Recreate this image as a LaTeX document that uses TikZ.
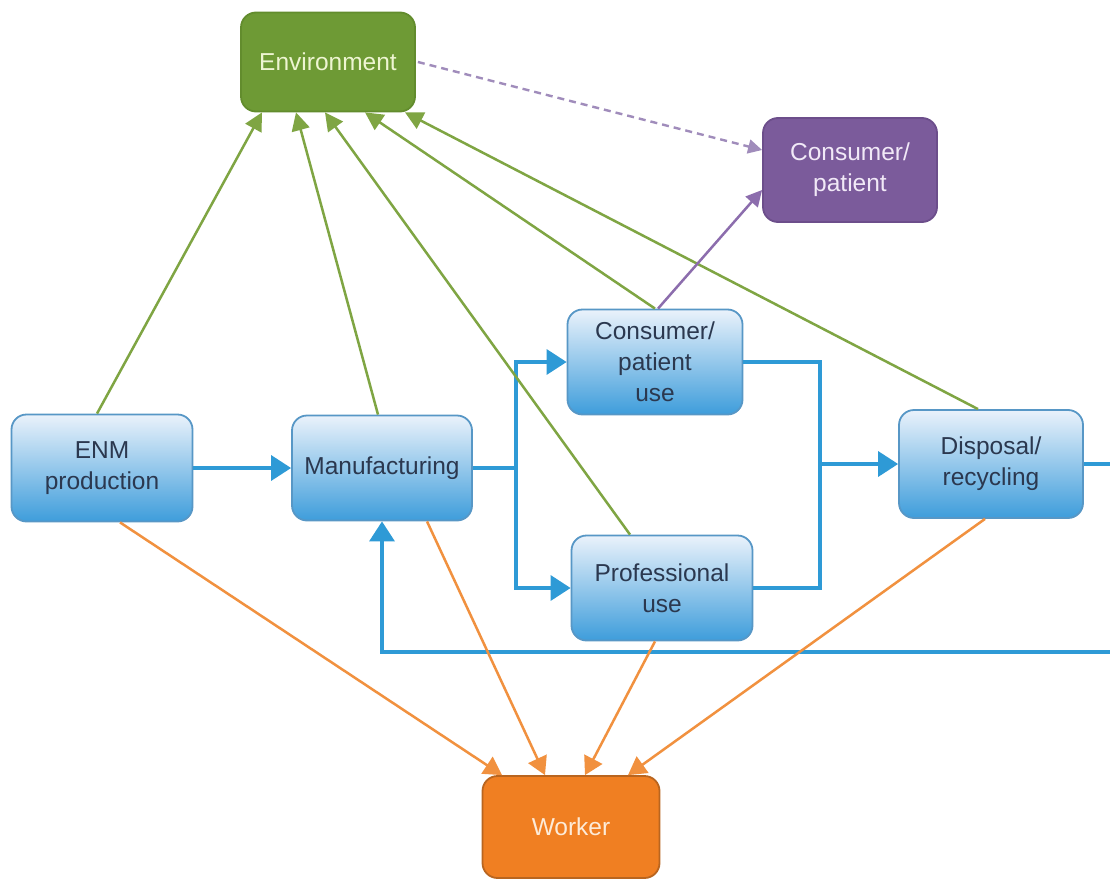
\documentclass[tikz,border=0pt]{standalone}
\usepackage{fontspec}
\setmainfont{Liberation Sans}
\usetikzlibrary{arrows.meta,calc}
\definecolor{bluetop}{HTML}{EAF2FB}
\definecolor{bluebot}{HTML}{3E9DDB}
\definecolor{blueedge}{HTML}{5797C6}
\definecolor{bluetext}{HTML}{2B384F}
\definecolor{blueline}{HTML}{2E9AD6}
\definecolor{envfill}{HTML}{6E9A35}
\definecolor{envedge}{HTML}{628C2D}
\definecolor{envtext}{HTML}{EEF5D2}
\definecolor{greenline}{HTML}{7FA543}
\definecolor{purfill}{HTML}{7B5B9B}
\definecolor{puredge}{HTML}{6C4E8B}
\definecolor{purtext}{HTML}{F1E9F7}
\definecolor{purline}{HTML}{8C6DAD}
\definecolor{purdash}{HTML}{A08CBB}
\definecolor{orfill}{HTML}{F07F22}
\definecolor{oredge}{HTML}{B9651F}
\definecolor{ortext}{HTML}{FDEBD8}
\definecolor{orline}{HTML}{F1913F}
\tikzset{
  x=1pt, y=-1pt,
  box/.style={rounded corners=15pt, line width=1.8pt, align=center,
    font=\fontsize{24.5}{31}\selectfont, inner sep=0pt},
  bluebox/.style={box, draw=blueedge, top color=bluetop, bottom color=bluebot, text=bluetext},
  envbox/.style={box, draw=envedge, fill=envfill, text=envtext},
  purbox/.style={box, draw=puredge, fill=purfill, text=purtext},
  orbox/.style={box, draw=oredge, fill=orfill, text=ortext},
  bflow/.style={draw=blueline, line width=3.4pt},
  bhead/.style={-{Triangle[length=20pt,width=25pt]}},
  gflow/.style={draw=greenline, line width=2.5pt, -{Triangle[length=18pt,width=18pt]}},
  oflow/.style={draw=orline, line width=2.5pt, -{Triangle[length=18pt,width=20pt]}},
  pflow/.style={draw=purline, line width=2.5pt, -{Triangle[length=16pt,width=16pt]}},
  pdash/.style={draw=purdash, line width=2.4pt, dash pattern=on 7pt off 5pt, -{Triangle[length=14pt,width=14pt]}}
}
\begin{document}
\begin{tikzpicture}
\useasboundingbox (0,0) rectangle (1110,880);
\fill[white] (0,0) rectangle (1110,880);

\node[envbox, minimum width=174pt, minimum height=99pt] (env) at (328,62) {Environment};
\node[purbox, minimum width=174pt, minimum height=104pt] (cp) at (850,170) {Consumer/\\patient};
\node[bluebox, minimum width=181pt, minimum height=107pt] (enm) at (102,468) {ENM\\production};
\node[bluebox, minimum width=180pt, minimum height=105pt] (man) at (382,468) {Manufacturing};
\node[bluebox, minimum width=175pt, minimum height=105pt] (cu) at (655,362) {Consumer/\\patient\\use};
\node[bluebox, minimum width=181pt, minimum height=105pt] (pu) at (662,588) {Professional\\use};
\node[bluebox, minimum width=184pt, minimum height=108pt] (dis) at (991,464) {Disposal/\\recycling};
\node[orbox, minimum width=177pt, minimum height=102pt] (wk) at (571,827) {Worker};

% blue process flow
\coordinate (b1) at (516,468);
\coordinate (b2) at (820,464);
\coordinate (loopr) at (1130,464);
\draw[bflow, bhead] (enm.east) -- (man.west);
\draw[bflow] (man.east) -- (b1);
\draw[bflow, bhead] (b1) |- (cu.west);
\draw[bflow, bhead] (b1) |- (pu.west);
\draw[bflow] (cu.east) -| (b2);
\draw[bflow] (pu.east) -| (b2);
\draw[bflow, bhead] (b2) -- (dis.west);
\draw[bflow, bhead] (dis.east) -- (loopr) -- ++(0,188) -| (man.south);

% green: to environment
\draw[gflow] ([xshift=-5pt]enm.north) -- ([xshift=-66pt]env.south);
\draw[gflow] ([xshift=-4pt]man.north) -- ([xshift=-32pt]env.south);
\draw[gflow] ([xshift=-32pt]pu.north) -- ([xshift=-3pt]env.south);
\draw[gflow] (cu.north) -- ([xshift=37pt]env.south);
\draw[gflow] ([xshift=-13pt]dis.north) -- ([xshift=77pt]env.south);

% purple
\draw[pflow] ([xshift=3pt]cu.north) -- ([yshift=-20pt]cp.west);
\draw[pdash] ([xshift=2pt]env.east) -- ([yshift=20pt]cp.west);

% orange: to worker
\draw[oflow] ([xshift=18pt]enm.south) -- ([xshift=-69pt]wk.north);
\draw[oflow] ([xshift=45pt]man.south) -- ([xshift=-26pt]wk.north);
\draw[oflow] ([xshift=-7pt]pu.south) -- ([xshift=14pt]wk.north);
\draw[oflow] ([xshift=-6pt]dis.south) -- ([xshift=57pt]wk.north);
\end{tikzpicture}
\end{document}
